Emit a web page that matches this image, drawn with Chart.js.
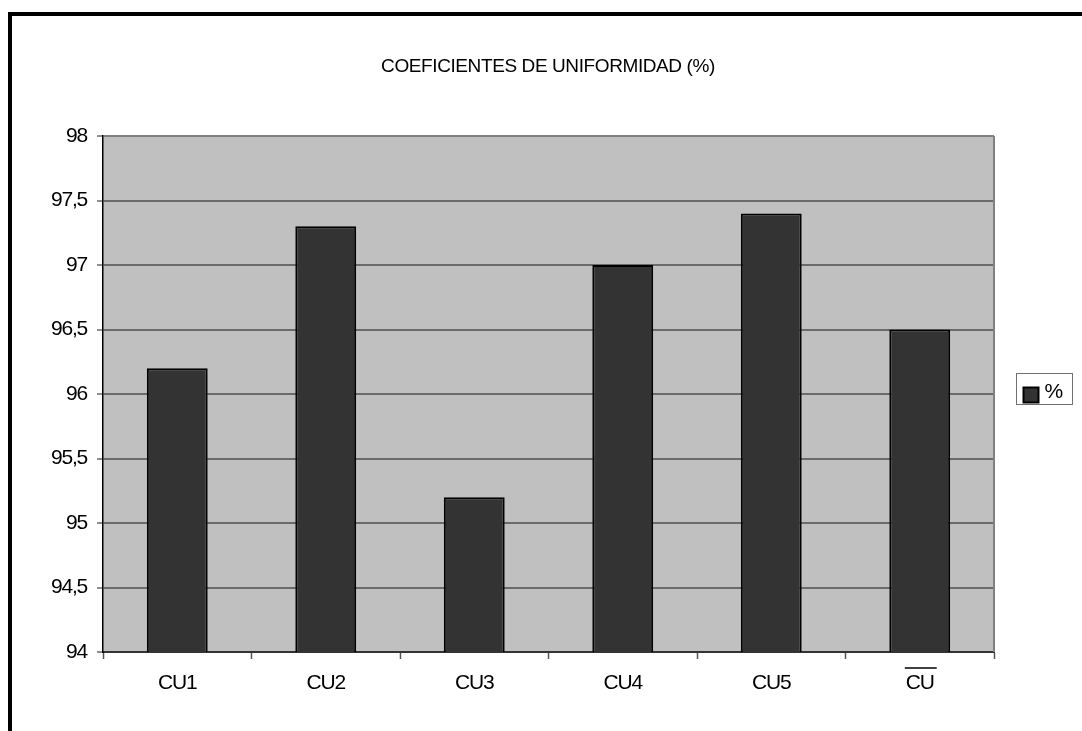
<!DOCTYPE html>
<html>
<head>
<meta charset="utf-8">
<script src="https://cdn.jsdelivr.net/npm/chart.js@4/dist/chart.umd.min.js"></script>
<style>
  html, body { margin: 0; padding: 0; background: #fff; overflow: hidden; }
  #frame {
    position: absolute; left: 8px; top: 12px;
    width: 1200px; height: 900px;
    border: 4px solid #000; box-sizing: border-box;
  }
  #c { position: absolute; left: 0; top: 0; }
</style>
</head>
<body>
<div id="frame"></div>
<canvas id="c" width="1082" height="731"></canvas>
<script>
// Coeficientes de uniformidad por ensayo y su media
const categories = ['CU1', 'CU2', 'CU3', 'CU4', 'CU5', 'CU'];
const uniformity = [96.2, 97.3, 95.2, 97.0, 97.4, 96.5];
const seriesName = '%';
const chartTitle = 'COEFICIENTES DE UNIFORMIDAD (%)';
const yMin = 94, yMax = 98, yStep = 0.5;
const overlinedIndex = 5; // the mean value label carries an overline

const FONT = "'Liberation Sans', Arial, sans-serif";
const LABEL_SIZE = 21;
const TIGHT = '-1.2px';

// narrow letter spacing for every text drawn on the canvas
const tightText = {
  id: 'tightText',
  beforeLayout(chart) { chart.ctx.letterSpacing = TIGHT; },
  beforeDraw(chart) { chart.ctx.letterSpacing = TIGHT; }
};

// gray plot background, right frame line and the centred heading
const plotFrame = {
  id: 'plotFrame',
  beforeDraw(chart) {
    const { ctx, chartArea: a } = chart;
    ctx.save();
    ctx.fillStyle = '#c0c0c0';
    ctx.fillRect(a.left, a.top, a.right - a.left, a.bottom - a.top);
    ctx.fillStyle = '#000';
    ctx.font = '19px ' + FONT;
    ctx.letterSpacing = '-0.4px';
    ctx.textAlign = 'center';
    ctx.textBaseline = 'middle';
    ctx.fillText(chartTitle, 548, 67);
    ctx.restore();
  },
  afterDatasetsDraw(chart) {
    const { ctx, chartArea: a } = chart;
    ctx.save();
    ctx.strokeStyle = '#808080';
    ctx.lineWidth = 2;
    ctx.beginPath();
    ctx.moveTo(a.right, a.top);
    ctx.lineTo(a.right, a.bottom);
    ctx.stroke();
    ctx.restore();
  }
};

// overline above the mean label
const overline = {
  id: 'overline',
  afterDraw(chart) {
    const x = chart.scales.x;
    const { ctx } = chart;
    const cx = x.getPixelForTick(overlinedIndex);
    ctx.save();
    ctx.font = LABEL_SIZE + 'px ' + FONT;
    const w = ctx.measureText(categories[overlinedIndex]).width;
    ctx.strokeStyle = '#000';
    ctx.lineWidth = 1.5;
    ctx.beginPath();
    ctx.moveTo(cx - w / 2 - 1, x.top + 16);
    ctx.lineTo(cx + w / 2 + 3, x.top + 16);
    ctx.stroke();
    ctx.restore();
  }
};

// boxed legend to the right of the plot
const boxLegend = {
  id: 'boxLegend',
  afterDraw(chart) {
    const { ctx, chartArea: a } = chart;
    const ds = chart.data.datasets[0];
    const bx = a.right + 22.5, by = Math.round((a.top + a.bottom) / 2) - 20.5;
    const bw = 56, bh = 31;
    ctx.save();
    ctx.fillStyle = '#fff';
    ctx.fillRect(bx, by, bw, bh);
    ctx.strokeStyle = '#707070';
    ctx.lineWidth = 1;
    ctx.strokeRect(bx, by, bw, bh);
    ctx.fillStyle = ds.backgroundColor;
    ctx.fillRect(bx + 7, by + 14, 15, 15);
    ctx.strokeStyle = '#000';
    ctx.lineWidth = 2;
    ctx.strokeRect(bx + 7, by + 14, 15, 15);
    ctx.fillStyle = '#000';
    ctx.font = LABEL_SIZE + 'px ' + FONT;
    ctx.textBaseline = 'middle';
    ctx.fillText(ds.label, bx + 28, by + 19);
    ctx.restore();
  }
};

new Chart(document.getElementById('c'), {
  type: 'bar',
  data: {
    labels: categories,
    datasets: [{
      label: seriesName,
      data: uniformity,
      backgroundColor: '#333333',
      borderColor: '#000000',
      borderWidth: 2,
      borderSkipped: false,
      barPercentage: 0.41,
      categoryPercentage: 1.0
    }]
  },
  options: {
    responsive: false,
    animation: false,
    devicePixelRatio: 1,
    layout: { padding: { left: 0, right: 88, top: 136, bottom: 0 } },
    plugins: {
      legend: { display: false },
      tooltip: { enabled: false },
      title: { display: false }
    },
    scales: {
      x: {
        afterFit(scale) { scale.height = 79; },
        grid: {
          offset: true,
          drawOnChartArea: false,
          drawTicks: true,
          tickLength: 7,
          tickColor: '#555',
          tickWidth: 1.5
        },
        border: { display: true, color: '#333', width: 2 },
        ticks: {
          color: '#000',
          padding: 12,
          font: { family: FONT, size: LABEL_SIZE }
        }
      },
      y: {
        min: yMin,
        max: yMax,
        afterFit(scale) { scale.width = 103; },
        grid: {
          color: (c) => (c.tick && c.tick.value === yMax) ? '#808080' : '#6b6b6b',
          lineWidth: 2,
          tickLength: 6,
          tickColor: '#6b6b6b',
          tickWidth: 1.5
        },
        border: { display: true, color: '#000', width: 1.5 },
        ticks: {
          stepSize: yStep,
          color: '#000',
          padding: 10,
          font: { family: FONT, size: LABEL_SIZE },
          callback: (v) => String(v).replace('.', ',')
        }
      }
    }
  },
  plugins: [tightText, plotFrame, overline, boxLegend]
});
</script>
</body>
</html>
